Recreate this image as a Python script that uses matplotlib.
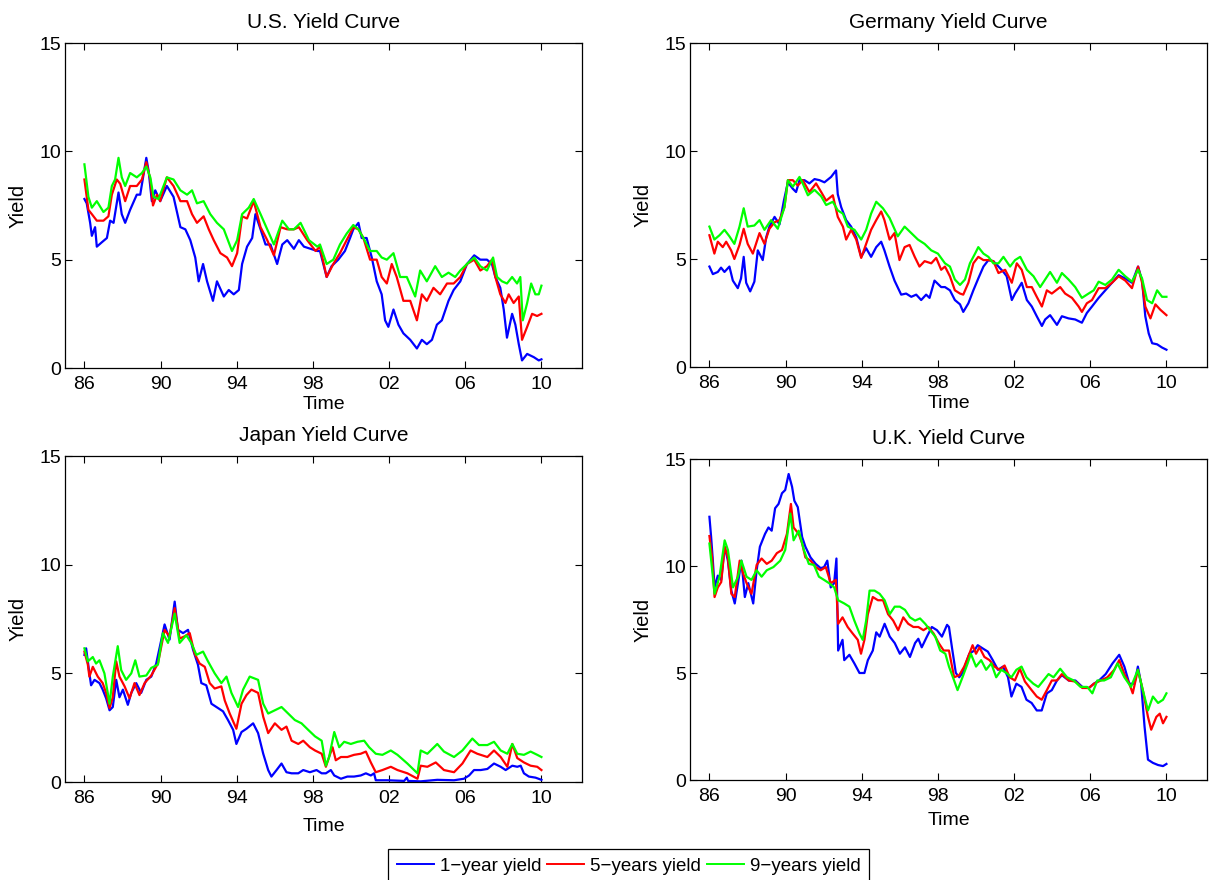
import matplotlib
matplotlib.use("Agg")
import matplotlib.pyplot as plt
from matplotlib.lines import Line2D

plt.rcParams['font.family'] = ['Liberation Sans', 'DejaVu Sans']

# ---------------- data (decimal year, yield %) ----------------
TITLES = ["U.S. Yield Curve", "Germany Yield Curve", "Japan Yield Curve", "U.K. Yield Curve"]
SERIES_LABELS = ["1\u2212year yield", "5\u2212years yield", "9\u2212years yield"]
SERIES_COLORS = ["#0000ff", "#ff0000", "#00ff00"]
XTICKS = [1986, 1990, 1994, 1998, 2002, 2006, 2010]
XTICK_LABELS = ["86", "90", "94", "98", "02", "06", "10"]
YTICKS = [0, 5, 10, 15]

US_1Y = [(1986.00,7.8),(1986.12,7.6),(1986.30,6.7),(1986.39,6.1),(1986.56,6.5),(1986.65,5.6),(1986.91,5.8),
    (1987.18,6.0),(1987.35,6.8),(1987.53,6.7),(1987.79,8.1),(1987.96,7.1),(1988.14,6.7),(1988.40,7.3),(1988.75,8.0),
    (1988.93,8.0),(1989.25,9.7),(1989.37,9.1),(1989.54,7.7),(1989.72,8.2),(1989.98,7.7),(1990.33,8.4),(1990.68,7.9),
    (1991.04,6.5),(1991.30,6.4),(1991.56,5.9),(1991.82,5.1),(1992.00,4.0),(1992.23,4.8),(1992.44,4.0),(1992.75,3.1),
    (1992.96,4.0),(1993.32,3.3),(1993.58,3.6),(1993.84,3.4),(1994.11,3.6),(1994.28,4.8),(1994.54,5.6),(1994.81,6.0),
    (1994.98,7.1),(1995.25,6.4),(1995.51,5.7),(1995.77,5.7),(1996.12,4.8),(1996.39,5.7),(1996.65,5.9),(1997.00,5.5),
    (1997.26,5.9),(1997.53,5.6),(1997.88,5.5),(1998.23,5.4),(1998.37,5.4),(1998.72,4.2),(1998.98,4.7),(1999.33,5.0),
    (1999.68,5.4),(1999.95,6.0),(2000.12,6.4),(2000.39,6.7),(2000.56,6.0),(2000.82,6.0),(2001.09,5.1),(2001.35,4.0),
    (2001.61,3.4),(2001.79,2.2),(2001.96,1.9),(2002.23,2.7),(2002.49,2.0),(2002.75,1.6),(2003.11,1.3),(2003.46,0.9),
    (2003.72,1.3),(2003.98,1.1),(2004.25,1.3),(2004.51,2.0),(2004.77,2.2),(2005.12,3.1),(2005.39,3.6),(2005.74,4.0),
    (2006.09,4.8),(2006.47,5.2),(2006.79,5.0),(2007.14,5.0),(2007.40,4.8),(2007.58,4.2),(2007.84,3.7),(2008.02,2.7),
    (2008.19,1.4),(2008.46,2.5),(2008.63,2.0),(2008.81,1.1),(2008.98,0.35),(2009.25,0.65),(2009.60,0.5),(2009.86,0.35),
    (2010.00,0.4)]
US_5Y = [(1986.00,8.7),(1986.21,7.3),(1986.39,7.1),(1986.65,6.8),(1987.00,6.8),(1987.26,7.0),(1987.44,8.0),
    (1987.70,8.7),(1987.88,8.5),(1988.14,7.7),(1988.40,8.4),(1988.75,8.4),(1989.02,8.7),(1989.25,9.5),(1989.46,8.7),
    (1989.60,7.5),(1989.81,8.0),(1989.98,7.7),(1990.33,8.8),(1990.68,8.4),(1991.04,7.7),(1991.39,7.7),(1991.65,7.1),
    (1991.91,6.7),(1992.26,7.0),(1992.53,6.4),(1992.79,5.9),(1993.14,5.3),(1993.49,5.1),(1993.75,4.7),(1994.02,5.3),
    (1994.28,7.0),(1994.54,6.9),(1994.89,7.7),(1995.25,6.5),(1995.60,5.9),(1995.95,5.2),(1996.30,6.5),(1996.65,6.4),
    (1997.00,6.4),(1997.26,6.5),(1997.70,5.9),(1998.14,5.4),(1998.37,5.6),(1998.72,4.2),(1999.07,4.8),(1999.42,5.3),
    (1999.77,5.9),(2000.12,6.5),(2000.39,6.4),(2000.65,6.0),(2001.00,5.0),(2001.35,5.0),(2001.61,4.2),(2001.88,3.9),
    (2002.14,4.8),(2002.40,4.2),(2002.75,3.1),(2003.11,3.1),(2003.46,2.2),(2003.72,3.4),(2003.98,3.1),(2004.33,3.7),
    (2004.68,3.4),(2005.04,3.9),(2005.39,3.9),(2005.74,4.2),(2006.09,4.8),(2006.47,5.0),(2006.79,4.5),(2007.14,4.7),
    (2007.40,5.0),(2007.58,4.2),(2007.84,3.4),(2008.11,3.0),(2008.28,3.4),(2008.54,3.0),(2008.81,3.3),(2008.98,1.3),
    (2009.25,1.9),(2009.51,2.5),(2009.77,2.4),(2010.00,2.5)]
US_9Y = [(1986.00,9.4),(1986.21,7.9),(1986.39,7.4),(1986.65,7.7),(1987.00,7.2),(1987.26,7.4),(1987.44,8.4),
    (1987.61,8.7),(1987.79,9.7),(1987.96,8.8),(1988.14,8.4),(1988.40,9.0),(1988.75,8.8),(1989.02,9.0),(1989.25,9.3),
    (1989.46,8.8),(1989.63,7.9),(1989.89,7.8),(1990.33,8.8),(1990.68,8.7),(1991.04,8.2),(1991.39,8.0),(1991.65,8.2),
    (1991.91,7.6),(1992.26,7.7),(1992.61,7.1),(1992.96,6.7),(1993.32,6.4),(1993.75,5.4),(1994.02,5.9),(1994.28,7.1),
    (1994.63,7.4),(1994.89,7.8),(1995.25,7.1),(1995.60,6.4),(1995.95,5.7),(1996.39,6.8),(1996.74,6.4),(1997.00,6.4),
    (1997.35,6.7),(1997.79,5.9),(1998.23,5.6),(1998.37,5.7),(1998.72,4.8),(1999.07,5.0),(1999.42,5.7),(1999.77,6.2),
    (2000.12,6.6),(2000.39,6.4),(2000.65,6.0),(2001.00,5.4),(2001.35,5.4),(2001.61,5.1),(2001.88,5.0),(2002.23,5.3),
    (2002.58,4.2),(2002.93,4.2),(2003.37,3.3),(2003.63,4.5),(2003.98,4.0),(2004.42,4.7),(2004.77,4.2),(2005.12,4.4),
    (2005.47,4.2),(2005.74,4.5),(2006.09,4.8),(2006.47,5.1),(2006.79,4.7),(2007.14,4.5),(2007.46,5.1),(2007.67,4.2),
    (2007.93,4.0),(2008.19,3.9),(2008.46,4.2),(2008.72,3.9),(2008.89,4.2),(2009.02,2.2),(2009.25,3.0),(2009.46,3.9),
    (2009.68,3.4),(2009.86,3.4),(2010.00,3.8)]

DE_1Y = [(1986.00,4.65),(1986.18,4.3),(1986.44,4.4),(1986.61,4.6),(1986.79,4.4),(1987.05,4.65),(1987.23,4.0),
    (1987.49,3.65),(1987.66,4.1),(1987.80,5.1),(1987.93,3.9),(1988.14,3.5),(1988.36,3.95),(1988.54,5.4),(1988.80,4.95),
    (1988.98,6.0),(1989.15,6.5),(1989.42,6.95),(1989.68,6.6),(1989.91,7.7),(1990.12,8.55),(1990.38,8.25),(1990.55,8.1),
    (1990.73,8.65),(1990.99,8.65),(1991.25,8.5),(1991.52,8.7),(1991.78,8.65),(1992.04,8.55),(1992.39,8.8),(1992.65,9.1),
    (1992.74,8.0),(1992.92,7.4),(1993.18,6.8),(1993.44,6.5),(1993.71,6.0),(1993.97,5.1),(1994.23,5.5),(1994.49,5.1),
    (1994.76,5.55),(1995.02,5.8),(1995.19,5.4),(1995.46,4.65),(1995.72,4.0),(1996.07,3.35),(1996.33,3.4),(1996.60,3.25),
    (1996.86,3.35),(1997.12,3.1),(1997.38,3.35),(1997.56,3.2),(1997.82,4.0),(1998.17,3.7),(1998.37,3.7),(1998.63,3.55),
    (1998.89,3.1),(1999.16,2.9),(1999.33,2.55),(1999.60,2.95),(1999.86,3.55),(2000.12,4.1),(2000.39,4.65),(2000.65,4.95),
    (2000.91,4.9),(2001.18,4.65),(2001.44,4.4),(2001.61,4.2),(2001.88,3.1),(2002.05,3.4),(2002.23,3.65),(2002.40,3.9),
    (2002.67,3.1),(2002.93,2.8),(2003.19,2.35),(2003.46,1.9),(2003.63,2.2),(2003.89,2.4),(2004.25,1.95),(2004.51,2.35),
    (2004.86,2.25),(2005.21,2.2),(2005.56,2.05),(2005.82,2.5),(2006.09,2.8),(2006.44,3.2),(2006.79,3.55),(2007.14,3.9),
    (2007.49,4.25),(2007.84,4.1),(2008.19,3.9),(2008.51,4.65),(2008.72,4.0),(2008.89,2.35),(2009.07,1.55),(2009.25,1.1),
    (2009.51,1.05),(2009.77,0.9),(2010.00,0.8)]
DE_5Y = [(1986.00,6.1),(1986.26,5.25),(1986.44,5.8),(1986.70,5.55),(1986.88,5.8),(1987.14,5.4),(1987.31,5.0),
    (1987.58,5.65),(1987.80,6.4),(1988.01,5.7),(1988.28,5.25),(1988.63,6.2),(1988.89,5.7),(1989.15,6.4),(1989.42,6.7),
    (1989.68,6.8),(1989.94,7.4),(1990.12,8.65),(1990.38,8.65),(1990.64,8.4),(1990.90,8.65),(1991.25,8.1),(1991.60,8.5),
    (1991.87,8.1),(1992.13,7.7),(1992.48,7.95),(1992.74,6.95),(1993.01,6.5),(1993.18,5.9),(1993.44,6.35),(1993.71,5.9),
    (1993.97,5.05),(1994.23,5.7),(1994.49,6.35),(1994.76,6.8),(1995.02,7.2),(1995.19,6.8),(1995.46,5.9),(1995.72,6.2),
    (1995.98,4.95),(1996.25,5.55),(1996.51,5.65),(1996.78,5.1),(1997.03,4.65),(1997.30,4.9),(1997.65,4.8),(1997.91,5.05),
    (1998.17,4.5),(1998.37,4.65),(1998.63,4.2),(1998.89,3.55),(1999.16,3.4),(1999.33,3.35),(1999.60,3.9),(1999.86,4.8),
    (2000.12,5.1),(2000.39,4.95),(2000.65,4.95),(2000.91,4.9),(2001.18,4.35),(2001.53,4.5),(2001.88,3.9),(2002.14,4.8),
    (2002.40,4.5),(2002.67,3.7),(2002.93,3.7),(2003.19,3.25),(2003.46,2.8),(2003.72,3.55),(2003.98,3.4),(2004.42,3.7),
    (2004.68,3.4),(2005.04,3.2),(2005.39,2.8),(2005.56,2.55),(2005.82,2.95),(2006.09,3.1),(2006.44,3.65),(2006.79,3.65),
    (2007.14,3.9),(2007.49,4.2),(2007.84,4.0),(2008.19,3.65),(2008.51,4.65),(2008.72,3.9),(2008.89,2.8),(2009.16,2.25),
    (2009.42,2.9),(2009.68,2.65),(2010.00,2.4)]
DE_9Y = [(1986.00,6.5),(1986.26,5.9),(1986.53,6.1),(1986.79,6.35),(1987.05,6.05),(1987.31,5.7),(1987.58,6.5),
    (1987.80,7.35),(1988.01,6.5),(1988.36,6.55),(1988.63,6.8),(1988.89,6.35),(1989.24,6.8),(1989.59,6.4),(1989.94,7.4),
    (1990.12,8.65),(1990.38,8.35),(1990.73,8.8),(1990.90,8.5),(1991.17,7.95),(1991.52,8.2),(1991.87,7.9),(1992.13,7.5),
    (1992.48,7.65),(1992.74,7.25),(1993.01,7.1),(1993.27,6.5),(1993.62,6.35),(1993.97,5.9),(1994.23,6.35),(1994.49,7.1),
    (1994.76,7.65),(1995.11,7.35),(1995.46,6.9),(1995.89,6.05),(1996.25,6.5),(1996.60,6.2),(1996.95,5.9),(1997.30,5.7),
    (1997.65,5.4),(1998.00,5.25),(1998.37,4.8),(1998.63,4.65),(1998.89,4.05),(1999.16,3.8),(1999.42,4.05),(1999.68,4.8),
    (1999.95,5.25),(2000.12,5.55),(2000.39,5.25),(2000.65,5.1),(2000.91,4.8),(2001.18,4.8),(2001.44,5.1),(2001.79,4.65),
    (2002.05,4.95),(2002.32,5.1),(2002.67,4.5),(2003.02,4.2),(2003.37,3.7),(2003.63,4.05),(2003.89,4.4),(2004.25,3.9),
    (2004.51,4.35),(2004.86,4.05),(2005.21,3.7),(2005.56,3.2),(2005.91,3.4),(2006.18,3.55),(2006.44,3.95),(2006.79,3.8),
    (2007.14,4.05),(2007.49,4.5),(2007.84,4.2),(2008.19,3.95),(2008.51,4.5),(2008.72,4.1),(2008.98,3.1),(2009.25,2.95),
    (2009.51,3.55),(2009.77,3.25),(2010.00,3.25)]

JP_1Y = [(1986.00,5.85),(1986.09,6.15),(1986.26,5.0),(1986.35,4.45),(1986.53,4.7),(1986.79,4.55),(1986.96,4.25),
    (1987.14,3.85),(1987.32,3.3),(1987.49,3.45),(1987.67,4.7),(1987.84,3.9),(1988.02,4.25),(1988.28,3.55),(1988.46,4.1),
    (1988.72,4.55),(1988.98,4.1),(1989.25,4.7),(1989.51,4.85),(1989.77,5.45),(1990.04,6.55),(1990.21,7.25),(1990.47,6.55),
    (1990.74,8.3),(1990.91,7.0),(1991.18,6.85),(1991.44,7.0),(1991.70,6.1),(1991.96,5.4),(1992.14,4.55),(1992.40,4.45),
    (1992.67,3.6),(1993.02,3.4),(1993.28,3.25),(1993.54,2.85),(1993.81,2.4),(1993.98,1.75),(1994.25,2.3),(1994.51,2.45),
    (1994.86,2.7),(1995.12,2.25),(1995.39,1.3),(1995.65,0.55),(1995.82,0.25),(1996.09,0.55),(1996.35,0.85),(1996.61,0.45),
    (1996.88,0.4),(1997.23,0.4),(1997.49,0.55),(1997.84,0.45),(1998.19,0.55),(1998.46,0.4),(1998.68,0.4),(1998.94,0.55),
    (1999.12,0.3),(1999.47,0.15),(1999.81,0.25),(2000.16,0.25),(2000.51,0.3),(2000.78,0.4),(2001.04,0.3),(2001.21,0.4),
    (2001.30,0.08),(2001.91,0.08),(2002.79,0.05),(2002.93,0.2),(2003.00,0.05),(2003.66,0.03),(2004.53,0.1),(2005.41,0.08),
    (2005.93,0.15),(2006.20,0.3),(2006.46,0.55),(2006.81,0.55),(2007.16,0.6),(2007.51,0.85),(2007.86,0.7),(2008.12,0.55),
    (2008.47,0.75),(2008.73,0.7),(2008.91,0.75),(2009.08,0.4),(2009.34,0.25),(2009.69,0.2),(2010.00,0.1)]
JP_5Y = [(1986.00,6.0),(1986.18,5.4),(1986.26,4.85),(1986.44,5.3),(1986.70,4.85),(1986.96,4.55),(1987.14,4.1),
    (1987.32,3.4),(1987.49,3.9),(1987.67,5.55),(1987.84,4.85),(1988.11,4.4),(1988.37,3.85),(1988.63,4.55),(1988.89,4.0),
    (1989.16,4.55),(1989.51,4.9),(1989.86,5.45),(1990.21,7.0),(1990.47,6.7),(1990.74,8.0),(1991.00,6.6),(1991.26,6.7),
    (1991.53,6.85),(1991.79,5.9),(1992.05,5.45),(1992.32,5.3),(1992.58,4.55),(1992.84,4.3),(1993.19,4.4),(1993.37,3.75),
    (1993.63,3.15),(1993.98,2.45),(1994.25,3.6),(1994.51,4.0),(1994.77,4.25),(1995.12,4.1),(1995.39,3.0),(1995.65,2.25),
    (1996.00,2.7),(1996.35,2.4),(1996.61,2.55),(1996.88,1.9),(1997.23,1.75),(1997.49,1.9),(1997.84,1.6),(1998.11,1.45),
    (1998.46,1.3),(1998.68,0.7),(1998.85,1.15),(1999.03,1.6),(1999.20,1.0),(1999.47,1.15),(1999.81,1.15),(2000.16,1.25),
    (2000.51,1.3),(2000.78,1.4),(2001.04,0.9),(2001.30,0.45),(2001.65,0.55),(2002.09,0.7),(2002.44,0.55),(2002.96,0.4),
    (2003.49,0.15),(2003.66,0.75),(2004.01,0.7),(2004.45,0.9),(2004.88,0.55),(2005.41,0.45),(2005.85,0.85),(2006.28,1.45),
    (2006.63,1.3),(2007.16,1.15),(2007.51,1.45),(2007.86,1.15),(2008.21,0.7),(2008.47,1.75),(2008.73,1.1),(2009.08,0.9),
    (2009.43,0.75),(2009.78,0.7),(2010.00,0.55)]
JP_9Y = [(1986.00,6.15),(1986.18,5.55),(1986.44,5.75),(1986.61,5.45),(1986.79,5.6),(1987.05,5.0),(1987.32,3.6),
    (1987.49,4.85),(1987.75,6.25),(1987.93,5.15),(1988.19,4.7),(1988.46,5.0),(1988.67,5.6),(1988.89,4.85),(1989.25,4.9),
    (1989.51,5.25),(1989.86,5.4),(1990.12,6.85),(1990.39,6.4),(1990.74,7.75),(1991.00,6.4),(1991.35,6.75),(1991.61,6.4),
    (1991.88,5.85),(1992.23,6.0),(1992.49,5.55),(1992.84,5.0),(1993.19,4.55),(1993.46,4.85),(1993.72,4.1),(1994.07,3.45),
    (1994.33,4.25),(1994.68,4.85),(1995.12,4.7),(1995.39,3.6),(1995.65,3.15),(1996.00,3.3),(1996.35,3.45),(1996.70,3.15),
    (1997.05,2.85),(1997.40,2.7),(1997.75,2.4),(1998.11,2.1),(1998.46,1.9),(1998.68,0.75),(1998.85,1.15),(1999.12,2.3),
    (1999.38,1.6),(1999.64,1.85),(1999.99,1.75),(2000.34,1.85),(2000.69,1.9),(2000.95,1.6),(2001.30,1.3),(2001.65,1.25),
    (2002.09,1.45),(2002.44,1.25),(2002.96,0.85),(2003.49,0.4),(2003.66,1.45),(2004.01,1.3),(2004.53,1.75),(2004.88,1.4),
    (2005.41,1.15),(2005.85,1.45),(2006.37,2.0),(2006.72,1.7),(2007.16,1.7),(2007.51,1.85),(2007.86,1.45),(2008.21,1.3),
    (2008.47,1.75),(2008.73,1.3),(2009.08,1.25),(2009.43,1.4),(2009.78,1.25),(2010.00,1.15)]

UK_1Y = [(1986.00,12.3),(1986.09,11.35),(1986.18,10.25),(1986.27,9.0),(1986.44,9.55),(1986.62,9.35),(1986.80,10.9),
    (1986.97,10.25),(1987.15,8.85),(1987.33,8.25),(1987.50,9.2),(1987.68,10.25),(1987.86,8.55),(1988.04,9.2),(1988.30,8.25),
    (1988.48,9.8),(1988.65,10.9),(1988.92,11.5),(1989.10,11.8),(1989.27,11.65),(1989.45,12.7),(1989.63,12.9),(1989.81,13.4),
    (1989.98,13.55),(1990.16,14.3),(1990.34,13.7),(1990.46,13.05),(1990.64,12.75),(1990.87,11.35),(1991.04,10.9),
    (1991.31,10.4),(1991.58,10.1),(1991.84,9.9),(1992.02,9.95),(1992.19,10.25),(1992.37,9.0),(1992.55,9.2),(1992.67,10.35),
    (1992.76,6.05),(1992.99,6.55),(1993.08,5.6),(1993.35,5.85),(1993.61,5.45),(1993.88,5.0),(1994.14,5.0),(1994.32,5.6),
    (1994.58,6.05),(1994.76,6.9),(1994.94,6.7),(1995.20,7.3),(1995.47,6.7),(1995.73,6.4),(1996.00,5.9),(1996.27,6.2),
    (1996.53,5.75),(1996.80,6.4),(1996.97,6.6),(1997.15,6.2),(1997.42,6.7),(1997.68,7.15),(1997.95,7.0),(1998.21,6.7),
    (1998.48,7.25),(1998.58,7.15),(1998.76,6.05),(1998.94,5.0),(1999.12,4.8),(1999.29,5.0),(1999.47,5.45),(1999.65,5.9),
    (1999.91,6.05),(2000.09,6.3),(2000.35,6.15),(2000.62,6.0),(2000.88,5.6),(2001.15,5.15),(2001.42,5.3),(2001.68,4.8),
    (2001.86,3.9),(2002.12,4.5),(2002.39,4.35),(2002.65,3.75),(2002.92,3.6),(2003.19,3.25),(2003.45,3.25),(2003.72,4.05),
    (2003.98,4.2),(2004.25,4.65),(2004.51,4.9),(2004.87,4.65),(2005.22,4.65),(2005.58,4.35),(2005.93,4.3),(2006.19,4.5),
    (2006.46,4.65),(2006.81,4.95),(2007.17,5.45),(2007.52,5.85),(2007.79,5.3),(2008.05,4.5),(2008.32,4.5),(2008.50,5.3),
    (2008.67,4.5),(2008.85,2.5),(2009.03,0.95),(2009.29,0.8),(2009.56,0.7),(2009.82,0.65),(2010.00,0.75)]
UK_5Y = [(1986.00,11.4),(1986.14,10.4),(1986.27,8.55),(1986.44,9.0),(1986.62,9.25),(1986.80,10.9),(1986.97,10.4),
    (1987.15,8.7),(1987.33,8.55),(1987.59,10.25),(1987.77,9.65),(1987.95,9.2),(1988.21,8.7),(1988.48,10.05),(1988.74,10.35),
    (1989.01,10.1),(1989.27,10.25),(1989.54,10.6),(1989.81,10.75),(1990.07,11.5),(1990.28,12.9),(1990.42,11.8),(1990.69,11.5),
    (1990.87,11.05),(1991.04,10.4),(1991.31,10.25),(1991.58,9.95),(1991.84,9.8),(1992.11,9.95),(1992.37,9.2),(1992.64,9.35),
    (1992.76,7.3),(1992.99,7.6),(1993.26,7.15),(1993.52,6.85),(1993.79,6.55),(1993.96,5.9),(1994.14,6.55),(1994.32,7.75),
    (1994.58,8.55),(1994.85,8.4),(1995.12,8.4),(1995.38,7.75),(1995.65,7.45),(1995.91,7.0),(1996.18,7.6),(1996.44,7.3),
    (1996.71,7.15),(1996.97,7.15),(1997.24,7.0),(1997.50,7.15),(1997.77,6.85),(1998.04,6.4),(1998.30,6.05),(1998.58,6.05),
    (1998.85,4.8),(1999.12,4.9),(1999.38,5.3),(1999.65,5.9),(1999.82,6.3),(2000.00,5.9),(2000.18,6.2),(2000.44,5.75),
    (2000.71,5.6),(2000.97,5.3),(2001.24,5.15),(2001.50,5.35),(2001.77,4.8),(2002.04,4.65),(2002.30,5.2),(2002.57,4.6),
    (2002.92,4.2),(2003.19,3.9),(2003.45,3.75),(2003.72,4.2),(2003.98,4.65),(2004.25,4.65),(2004.51,4.95),(2004.87,4.65),
    (2005.22,4.6),(2005.58,4.3),(2005.93,4.3),(2006.19,4.5),(2006.55,4.65),(2006.90,4.8),(2007.26,5.15),(2007.52,5.6),
    (2007.79,4.95),(2008.05,4.5),(2008.23,4.05),(2008.50,5.15),(2008.76,4.2),(2009.03,2.95),(2009.20,2.35),(2009.47,2.95),
    (2009.65,3.1),(2009.82,2.65),(2010.00,2.95)]
UK_9Y = [(1986.00,11.05),(1986.18,9.5),(1986.27,8.7),(1986.53,9.5),(1986.80,11.2),(1986.97,10.75),(1987.24,9.0),
    (1987.50,9.5),(1987.68,10.25),(1987.95,9.5),(1988.21,9.35),(1988.48,9.8),(1988.74,9.5),(1989.01,9.8),(1989.36,9.95),
    (1989.72,10.25),(1989.98,10.75),(1990.25,12.45),(1990.42,11.2),(1990.69,11.65),(1990.96,10.75),(1991.22,10.1),
    (1991.49,10.05),(1991.75,9.5),(1992.02,9.35),(1992.28,9.2),(1992.55,9.0),(1992.76,8.4),(1993.08,8.25),(1993.35,8.1),
    (1993.61,7.45),(1993.88,6.85),(1994.05,6.55),(1994.23,7.45),(1994.41,8.85),(1994.67,8.85),(1994.94,8.7),(1995.20,8.4),
    (1995.47,7.75),(1995.73,8.1),(1996.00,8.1),(1996.27,7.95),(1996.53,7.6),(1996.80,7.45),(1997.06,7.55),(1997.33,7.3),
    (1997.59,7.0),(1997.86,6.7),(1998.12,6.05),(1998.39,5.9),(1998.58,5.3),(1998.85,4.65),(1999.03,4.2),(1999.29,4.8),
    (1999.56,5.45),(1999.73,5.9),(2000.00,5.3),(2000.27,5.6),(2000.53,5.15),(2000.80,5.45),(2001.06,4.8),(2001.33,5.15),
    (2001.59,5.0),(2001.86,4.8),(2002.12,5.15),(2002.39,5.3),(2002.65,4.8),(2003.01,4.5),(2003.27,4.35),(2003.54,4.65),
    (2003.81,4.95),(2004.07,4.8),(2004.42,5.2),(2004.78,4.8),(2005.13,4.65),(2005.49,4.35),(2005.84,4.35),(2006.11,4.05),
    (2006.37,4.65),(2006.73,4.65),(2007.08,4.8),(2007.43,5.45),(2007.79,4.8),(2008.14,4.35),(2008.50,5.15),(2008.76,4.2),
    (2009.03,3.25),(2009.29,3.9),(2009.56,3.6),(2009.82,3.75),(2010.00,4.05)]

PANELS = [(US_1Y, US_5Y, US_9Y), (DE_1Y, DE_5Y, DE_9Y), (JP_1Y, JP_5Y, JP_9Y), (UK_1Y, UK_5Y, UK_9Y)]

# ---------------- layout (pixel boxes: left, right, top, bottom) ----------------
W, H = 1211, 880
BOXES = [(65, 582, 43, 368), (690, 1207, 43, 367), (65, 582, 456, 782), (690, 1207, 459, 780)]
XLABEL_PADS = [2, 2, 8, 5]

fig = plt.figure(figsize=(W / 100, H / 100), dpi=100)

for (l, r, t, b), title, series, xpad in zip(BOXES, TITLES, PANELS, XLABEL_PADS):
    ax = fig.add_axes([l / W, 1 - b / H, (r - l) / W, (b - t) / H])
    for data, color in zip(series, SERIES_COLORS):
        xs = [p[0] for p in data]
        ys = [p[1] for p in data]
        ax.plot(xs, ys, color=color, linewidth=1.6)
    ax.set_xlim(1984.98, 2012.13)
    ax.set_ylim(0, 15)
    ax.set_xticks(XTICKS)
    ax.set_xticklabels(XTICK_LABELS)
    ax.set_yticks(YTICKS)
    ax.tick_params(direction='in', top=True, right=True, length=5, width=0.8, labelsize=14)
    ax.tick_params(axis='x', pad=6)
    ax.tick_params(axis='y', pad=3)
    for s in ax.spines.values():
        s.set_linewidth(0.9)
    ax.set_xlabel('Time', fontsize=14, labelpad=xpad)
    ax.set_ylabel('Yield', fontsize=14.5, labelpad=8)
    ax.set_title(title, fontsize=15, pad=11)

handles = [Line2D([], [], color=c, linewidth=1.4) for c in SERIES_COLORS]
leg = fig.legend(handles, SERIES_LABELS, loc='center', bbox_to_anchor=(628.5 / W, 1 - 866 / H), ncol=3,
                 fontsize=13.5, frameon=True, fancybox=False, edgecolor='black', framealpha=1,
                 handlelength=2.0, handletextpad=0.3, columnspacing=0.3, borderpad=0.45, borderaxespad=0)
leg.get_frame().set_linewidth(0.9)

fig.savefig('out.png', dpi=100)
